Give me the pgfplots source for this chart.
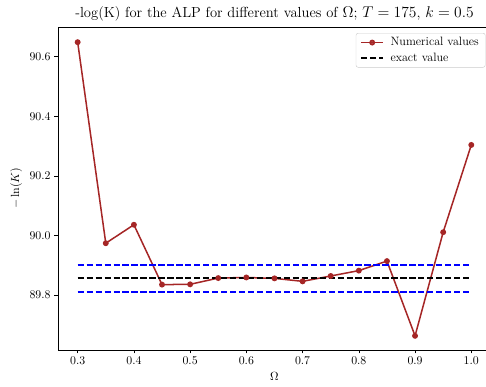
\documentclass[border=0pt]{standalone}
\usepackage{pgfplots}
\pgfplotsset{compat=1.18}

\definecolor{numred}{RGB}{165,38,38}
\definecolor{legframe}{gray}{0.8}

\pgfplotstableread{
omega  val
0.30   90.649
0.35   89.974
0.40   90.036
0.45   89.835
0.50   89.836
0.55   89.857
0.60   89.859
0.65   89.856
0.70   89.846
0.75   89.864
0.80   89.882
0.85   89.914
0.90   89.663
0.95   90.011
1.00   90.304
}\alpdata

\begin{document}
\begin{tikzpicture}
\begin{axis}[
  name=ax,
  scale only axis,
  width=401pt, height=299pt,
  xmin=0.265, xmax=1.035,
  ymin=89.616, ymax=90.70,
  xtick={0.3,0.4,...,1.0},
  ytick={89.8,90.0,90.2,90.4,90.6},
  xticklabel style={/pgf/number format/.cd, fixed, fixed zerofill, precision=1},
  yticklabel style={/pgf/number format/.cd, fixed, fixed zerofill, precision=1},
  tick label style={font=\fontsize{11.2}{13}\selectfont},
  label style={font=\fontsize{11.2}{13}\selectfont},
  tick align=outside,
  xtick pos=bottom, ytick pos=left,
  major tick length=3.3pt,
  tick style={black, line width=0.6pt},
  axis line style={line width=0.6pt},
  title={-log(K) for the ALP for different values of $\Omega$; $T = 175$, $k = 0.5$},
  title style={font=\fontsize{13.5}{15}\selectfont, yshift=-4pt},
  xlabel={$\Omega$},
  ylabel={$-\ln(K)$},
  legend cell align=left,
  legend image code/.code={
    \draw[mark repeat=2, mark phase=2, #1] plot coordinates {(0cm,0cm) (0.36cm,0cm) (0.72cm,0cm)};
  },
  legend style={
    at={(1,1)}, anchor=north east, xshift=-5.1pt, yshift=-5.6pt,
    draw=legframe, rounded corners=2pt, fill=white, fill opacity=0.8, text opacity=1,
    font=\fontsize{11.2}{13}\selectfont, row sep=1pt, column sep=4pt,
    inner xsep=4pt, inner ysep=2pt,
  },
]
\addplot[numred, line width=1.4pt, mark=*, mark size=2pt] table[x=omega, y=val] {\alpdata};
\addlegendentry{Numerical values}
\addplot[black, line width=1.5pt, dash pattern=on 5.8pt off 2.5pt] coordinates {(0.3,89.857) (1.0,89.857)};
\addlegendentry{exact value}
\addplot[blue, line width=1.4pt, dash pattern=on 5.8pt off 2.5pt, forget plot] coordinates {(0.3,89.901) (1.0,89.901)};
\addplot[blue, line width=1.4pt, dash pattern=on 5.8pt off 2.5pt, forget plot] coordinates {(0.3,89.811) (1.0,89.811)};
\end{axis}
\pgfresetboundingbox
\path[use as bounding box] ([xshift=-53.7pt, yshift=-34.3pt]ax.south west) rectangle ([xshift=-4.6pt, yshift=25pt]ax.north east);
\end{tikzpicture}
\end{document}
